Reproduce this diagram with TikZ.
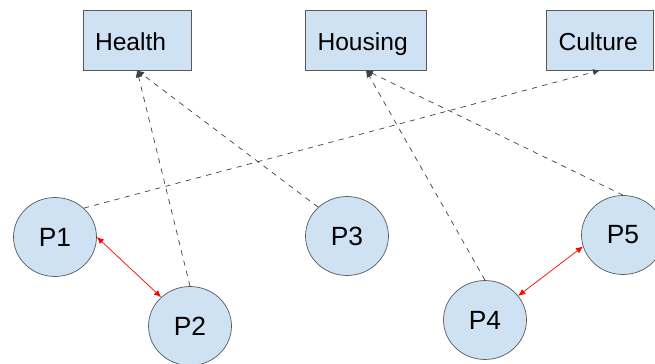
\documentclass[tikz,border=0pt]{standalone}
\usepackage{fontspec}
\setmainfont{Liberation Sans}
\usetikzlibrary{arrows.meta,shapes.geometric}
\definecolor{paleblue}{HTML}{CFE2F3}
\definecolor{edgegray}{HTML}{595959}
\begin{document}
\begin{tikzpicture}[x=0.02cm,y=-0.02cm,
  topic/.style={draw=edgegray,fill=paleblue,minimum height=1.2cm,inner xsep=0.24cm,inner ysep=0pt,text height=14pt,text depth=2.6pt,align=left,font=\fontsize{14}{16}\selectfont},
  person/.style={ellipse,draw=edgegray,fill=paleblue,minimum width=1.66cm,minimum height=1.58cm,inner sep=0pt,font=\fontsize{15}{17}\selectfont},
  link/.style={dashed,thin,black!75,-{Latex[length=4pt,width=3.5pt]}},
  pair/.style={red,thin,{Latex[length=4pt,width=3.5pt]}-{Latex[length=4pt,width=3.5pt]}}]
\useasboundingbox (0,0) rectangle (655,364);
\node [topic,text width=1.68cm] (health) at (137,40) {Health};
\node [topic,text width=1.94cm] (housing) at (366,40) {Housing};
\node [topic,text width=1.66cm] (culture) at (600,40) {Culture};
\node [person] (p1) at (55,237) {P1};
\node [person] (p2) at (190,326) {P2};
\node [person] (p3) at (347,236) {P3};
\node [person] (p4) at (485,320) {P4};
\node [person] (p5) at (623,235) {P5};
\draw [link] (p1.45) -- (culture.south);
\draw [link] (p2.north) -- (health.south);
\draw [link] (p3.135) -- (health.south);
\draw [link] (p4.north) -- (housing.south);
\draw [link] (p5.north) -- (housing.south);
\draw [pair] (p1.east) -- (p2.135);
\draw [pair] (p4.36) -- (p5.196);
\end{tikzpicture}
\end{document}
